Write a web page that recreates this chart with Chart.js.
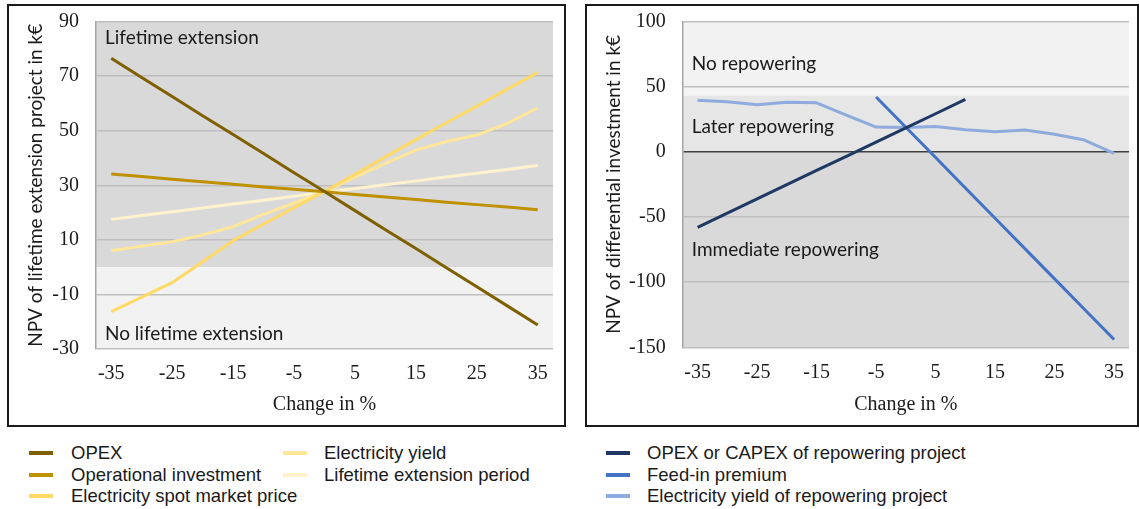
<!DOCTYPE html>
<html>
<head>
<meta charset="utf-8">
<script src="https://cdn.jsdelivr.net/npm/chart.js@4.4.1/dist/chart.umd.min.js"></script>
<style>
  body { margin: 0; background: #fff; width: 1139px; height: 509px; position: relative; overflow: hidden; }
  canvas { position: absolute; top: 0; }
  .frame { position: absolute; top: 4px; height: 423px; border: 2px solid #1a1a1a; box-sizing: border-box; }
  .legend { position: absolute; top: 443px; font-family: 'Liberation Sans', Arial, sans-serif; font-size: 18.5px; color: #1a1a1a; }
  .item { position: absolute; white-space: nowrap; height: 20px; line-height: 20px; }
  .item i { position: absolute; left: 0; top: 8px; width: 24px; height: 4px; }
  .item span { position: absolute; top: 0; }
</style>
</head>
<body>
<canvas id="left" width="575" height="430" style="left:0px"></canvas>
<canvas id="right" width="559" height="430" style="left:580px"></canvas>
<div class="frame" style="left:7px;width:559px"></div>
<div class="frame" style="left:585px;width:554px"></div>
<div class="legend" id="legLeft" style="left:29px"></div>
<div class="legend" id="legRight" style="left:606px"></div>
<script>
// change in % (x axis), every 5 %
const changes = [-35, -30, -25, -20, -15, -10, -5, 0, 5, 10, 15, 20, 25, 30, 35];

// left chart: NPV of lifetime extension project in k€
const opex          = [76.5, 69.5, 62.5, 55.5, 48.6, 41.6, 34.6, 27.7, 20.7, 13.7, 6.8, -0.2, -7.2, -14.2, -21.2];
const operationalInv = [34.1, 33.2, 32.2, 31.3, 30.4, 29.4, 28.5, 27.6, 26.6, 25.7, 24.8, 23.8, 22.9, 22.0, 21.0];
const spotPrice     = [-16.3, -11.0, -5.7, 2.0, 9.7, 15.8, 21.8, 27.7, 34.0, 40.4, 46.7, 52.9, 59.0, 65.2, 71.3];
const elecYield     = [6.0, 7.7, 9.3, 11.8, 14.8, 19.3, 23.5, 27.7, 33.0, 38.0, 42.9, 46.0, 48.4, 52.7, 58.4];
const lifetimePeriod = [17.5, 18.9, 20.3, 21.7, 23.1, 24.5, 26.0, 27.4, 28.8, 30.2, 31.6, 33.0, 34.4, 35.8, 37.2];

// right chart: NPV of differential investment in k€
const opexCapex   = [-58.0, -47.1, -36.2, -25.3, -14.4, -3.6, 7.3, 18.2, 29.1, 40.2, null, null, null, null, null];
const feedIn      = [null, null, null, null, null, null, 42.0, 18.8, -4.5, -27.8, -51.0, -74.3, -97.5, -120.8, -144.0];
const repowYield  = [39.5, 38.3, 36.0, 38.0, 37.5, 28.0, 18.9, 18.6, 19.4, 16.8, 15.3, 16.6, 13.4, 8.9, -1.3];

const leftSeries = [
  { label: 'OPEX', data: opex, color: '#7f6000' },
  { label: 'Operational investment', data: operationalInv, color: '#bf9000' },
  { label: 'Electricity spot market price', data: spotPrice, color: '#ffd966' },
  { label: 'Electricity yield', data: elecYield, color: '#ffe699' },
  { label: 'Lifetime extension period', data: lifetimePeriod, color: '#fff2cc' }
];
const rightSeries = [
  { label: 'OPEX or CAPEX of repowering project', data: opexCapex, color: '#1f3864' },
  { label: 'Feed-in premium', data: feedIn, color: '#4472c4' },
  { label: 'Electricity yield of repowering project', data: repowYield, color: '#8faadc' }
];

const SERIF = "'Liberation Serif', 'Times New Roman', serif";
const SANS = "Lato, 'Open Sans', sans-serif";

// shaded regions behind the plot, and their labels
const zonesPlugin = {
  id: 'zones',
  beforeDraw(chart, args, opts) {
    const { ctx, chartArea: a, scales: { y } } = chart;
    ctx.save();
    opts.bands.forEach(b => {
      const top = y.getPixelForValue(b.to), bot = y.getPixelForValue(b.from);
      ctx.fillStyle = b.color;
      ctx.fillRect(a.left, top, a.right - a.left, bot - top);
    });
    ctx.restore();
  },
  beforeDatasetsDraw(chart, args, opts) {
    const { ctx, chartArea: a, scales: { y } } = chart;
    ctx.save();
    ctx.font = '19px ' + SANS;
    ctx.fillStyle = '#1a1a1a';
    ctx.textBaseline = 'middle';
    opts.notes.forEach(n => ctx.fillText(n.text, a.left + 9, y.getPixelForValue(n.at)));
    ctx.restore();
  }
};

function makeChart(id, series, yMin, yMax, step, yTitle, yWidth, titleOffset, padRight, top, bottom, bands, notes) {
  return new Chart(document.getElementById(id), {
    type: 'line',
    data: {
      labels: changes,
      datasets: series.map(s => ({
        label: s.label, data: s.data,
        borderColor: s.color, backgroundColor: s.color,
        borderWidth: 3, pointRadius: 0, tension: 0,
        borderJoinStyle: 'round', spanGaps: false
      }))
    },
    plugins: [zonesPlugin],
    options: {
      responsive: false,
      animation: false,
      layout: { padding: { top: top, right: padRight, bottom: 0, left: 0 } },
      plugins: {
        legend: { display: false },
        tooltip: { enabled: false },
        zones: { bands: bands, notes: notes }
      },
      scales: {
        x: {
          offset: true,
          grid: { display: false, drawTicks: false },
          border: { display: false },
          ticks: {
            autoSkip: false, maxRotation: 0, padding: 13, color: '#1a1a1a',
            font: { family: SERIF, size: 20 },
            callback: (v, i) => (i % 2 === 0 ? String(changes[i]) : '')
          },
          title: {
            display: true, text: 'Change in %', color: '#1a1a1a',
            font: { family: SERIF, size: 20 }, padding: { top: 0, bottom: 13 }
          },
          afterFit: s => { s.height = 430 - bottom; }
        },
        y: {
          min: yMin, max: yMax,
          grid: {
            drawTicks: false, lineWidth: 1.5,
            color: c => (c.tick.value === 0 ? '#404040' : '#bfbfbf')
          },
          border: { display: true, color: '#a6a6a6', width: 1.5 },
          ticks: {
            stepSize: step, padding: 17, color: '#1a1a1a',
            font: { family: SERIF, size: 20 }
          },
          title: {
            display: true, text: yTitle, color: '#1a1a1a',
            font: { family: SANS, size: 19 }, padding: { top: titleOffset, bottom: 0 }
          },
          afterFit: s => { s.width = yWidth; s.paddingTop = 0; s.paddingBottom = 0; }
        }
      }
    }
  });
}

makeChart('left', leftSeries, -30, 90, 20, 'NPV of lifetime extension project in k€',
  96, 24.5, 22, 21.5, 349,
  [{ from: 0, to: 90, color: '#d9d9d9' }, { from: -30, to: 0, color: '#f2f2f2' }],
  [{ text: 'Lifetime extension', at: 84 }, { text: 'No lifetime extension', at: -24.5 }]);

makeChart('right', rightSeries, -150, 100, 50, 'NPV of differential investment in k€',
  102.7, 22.5, 10, 21.3, 347.3,
  [{ from: 50, to: 100, color: '#f2f2f2' }, { from: 43, to: 50, color: '#f5f5f5' },
   { from: 0, to: 43, color: '#e6e6e6' }, { from: -150, to: 0, color: '#d9d9d9' }],
  [{ text: 'No repowering', at: 67.3 }, { text: 'Later repowering', at: 19 }, { text: 'Immediate repowering', at: -75.4 }]);

// legends laid out in columns, as in the source figure
function buildLegend(el, series, columns) {
  series.forEach((s, i) => {
    const col = columns.find(c => i < c.upTo);
    const row = i - col.start;
    const d = document.createElement('div');
    d.className = 'item';
    d.style.left = col.x + 'px';
    d.style.top = (row * 21.5) + 'px';
    d.innerHTML = '<i style="background:' + s.color + '"></i><span style="left:' + col.text + 'px"></span>';
    d.querySelector('span').textContent = s.label;
    el.appendChild(d);
  });
}
buildLegend(document.getElementById('legLeft'), leftSeries,
  [{ start: 0, upTo: 3, x: 0, text: 42 }, { start: 3, upTo: 5, x: 254, text: 41 }]);
buildLegend(document.getElementById('legRight'), rightSeries,
  [{ start: 0, upTo: 3, x: 0, text: 41 }]);
</script>
</body>
</html>
